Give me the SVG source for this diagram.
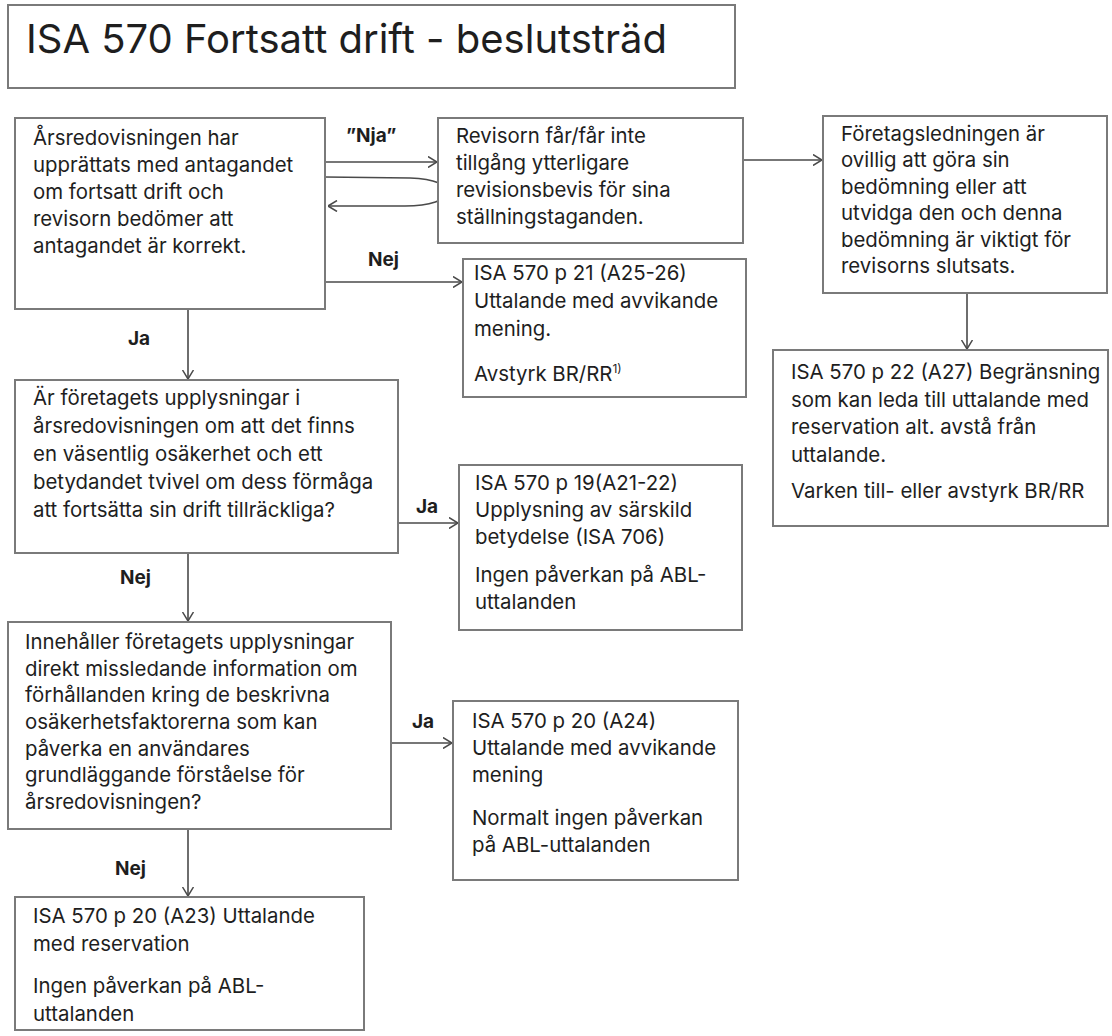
<svg xmlns="http://www.w3.org/2000/svg" width="1112" height="1036" viewBox="0 0 1112 1036">
  <style>
    .bg { fill: #ffffff; }
    .box { fill: #ffffff; stroke: #7a7a7a; stroke-width: 2; }
    .t { font-family: Inter, "Open Sans", "Liberation Sans", sans-serif; font-size: 20.4px; fill: #1e1e1e; }
    .title { font-family: Inter, "Open Sans", "Liberation Sans", sans-serif; font-size: 40px; fill: #1e1e1e; }
    .lbl { font-family: Inter, "Open Sans", "Liberation Sans", sans-serif; font-size: 19px; font-weight: bold; fill: #1e1e1e; }
    .edge { fill: none; stroke: #4a4a4a; stroke-width: 1.6; marker-end: url(#arr); }
    .sup { font-size: 12px; }
  </style>
  <defs>
    <marker id="arr" viewBox="0 0 10 12" refX="9.5" refY="6" markerWidth="10" markerHeight="12" markerUnits="userSpaceOnUse" orient="auto">
      <path d="M0.5,0.5 L9.5,6 L0.5,11.5" fill="none" stroke="#4a4a4a" stroke-width="1.5"/>
    </marker>
  </defs>
  <rect class="bg" x="0" y="0" width="1112" height="1036"/>

  <g id="title">
    <rect class="box" x="8" y="5" width="727" height="83"/>
    <text class="title" x="26" y="53">ISA 570 Fortsatt drift - beslutsträd</text>
  </g>

  <g id="connectors">
    <path class="edge" d="M325,162 L437,162"/>
    <path class="edge" d="M325,177 L410,178 C436,179 447,185 447,192 C447,200 430,206 405,206 L328,206"/>
    <path class="edge" d="M325,282 L462,282"/>
    <path class="edge" d="M743,160 L822,160"/>
    <path class="edge" d="M967,293 L967,349"/>
    <path class="edge" d="M188,309 L188,379"/>
    <path class="edge" d="M398,523 L458,523"/>
    <path class="edge" d="M188,553 L188,621"/>
    <path class="edge" d="M391,743 L452,743"/>
    <path class="edge" d="M188,829 L188,896"/>
    <text class="lbl" x="346" y="142">”Nja”</text>
    <text class="lbl" x="368" y="266">Nej</text>
    <text class="lbl" x="128" y="345">Ja</text>
    <text class="lbl" x="416" y="513">Ja</text>
    <text class="lbl" x="120" y="584">Nej</text>
    <text class="lbl" x="412" y="728">Ja</text>
    <text class="lbl" x="115" y="875">Nej</text>
  </g>

  <g id="n1">
    <rect class="box" x="15" y="118" width="310" height="191"/>
    <text class="t" x="33" y="145">Årsredovisningen har</text>
    <text class="t" x="33" y="172">upprättats med antagandet</text>
    <text class="t" x="33" y="199">om fortsatt drift och</text>
    <text class="t" x="33" y="226">revisorn bedömer att</text>
    <text class="t" x="33" y="253">antagandet är korrekt.</text>
  </g>

  <g id="n2">
    <rect class="box" x="438" y="118" width="305" height="125"/>
    <text class="t" x="456" y="143">Revisorn får/får inte</text>
    <text class="t" x="456" y="170">tillgång ytterligare</text>
    <text class="t" x="456" y="197">revisionsbevis för sina</text>
    <text class="t" x="456" y="224">ställningstaganden.</text>
  </g>

  <g id="n3">
    <rect class="box" x="823" y="116" width="284" height="177"/>
    <text class="t" x="841" y="141">Företagsledningen är</text>
    <text class="t" x="841" y="167">ovillig att göra sin</text>
    <text class="t" x="841" y="194">bedömning eller att</text>
    <text class="t" x="841" y="220">utvidga den och denna</text>
    <text class="t" x="841" y="247">bedömning är viktigt för</text>
    <text class="t" x="841" y="273">revisorns slutsats.</text>
  </g>

  <g id="n4">
    <rect class="box" x="773" y="350" width="335" height="176"/>
    <text class="t" x="791" y="379">ISA 570 p 22 (A27) Begränsning</text>
    <text class="t" x="791" y="407">som kan leda till uttalande med</text>
    <text class="t" x="791" y="434">reservation alt. avstå från</text>
    <text class="t" x="791" y="462">uttalande.</text>
    <text class="t" x="791" y="498">Varken till- eller avstyrk BR/RR</text>
  </g>

  <g id="n5">
    <rect class="box" x="463" y="259" width="283" height="138"/>
    <text class="t" x="474" y="280">ISA 570 p 21 (A25-26)</text>
    <text class="t" x="474" y="308">Uttalande med avvikande</text>
    <text class="t" x="474" y="336">mening.</text>
    <text class="t" x="474" y="381">Avstyrk BR/RR<tspan class="sup" dy="-8">1)</tspan></text>
  </g>

  <g id="n6">
    <rect class="box" x="15" y="380" width="383" height="173"/>
    <text class="t" x="33" y="405">Är företagets upplysningar i</text>
    <text class="t" x="33" y="433">årsredovisningen om att det finns</text>
    <text class="t" x="33" y="461">en väsentlig osäkerhet och ett</text>
    <text class="t" x="33" y="489">betydandet tvivel om dess förmåga</text>
    <text class="t" x="33" y="517">att fortsätta sin drift tillräckliga?</text>
  </g>

  <g id="n7">
    <rect class="box" x="459" y="465" width="283" height="165"/>
    <text class="t" x="475" y="490">ISA 570 p 19(A21-22)</text>
    <text class="t" x="475" y="517">Upplysning av särskild</text>
    <text class="t" x="475" y="544">betydelse (ISA 706)</text>
    <text class="t" x="475" y="582">Ingen påverkan på ABL-</text>
    <text class="t" x="475" y="609">uttalanden</text>
  </g>

  <g id="n8">
    <rect class="box" x="8" y="622" width="383" height="207"/>
    <text class="t" x="25" y="649">Innehåller företagets upplysningar</text>
    <text class="t" x="25" y="676">direkt missledande information om</text>
    <text class="t" x="25" y="702">förhållanden kring de beskrivna</text>
    <text class="t" x="25" y="729">osäkerhetsfaktorerna som kan</text>
    <text class="t" x="25" y="756">påverka en användares</text>
    <text class="t" x="25" y="782">grundläggande förståelse för</text>
    <text class="t" x="25" y="809">årsredovisningen?</text>
  </g>

  <g id="n9">
    <rect class="box" x="453" y="701" width="285" height="179"/>
    <text class="t" x="472" y="728">ISA 570 p 20 (A24)</text>
    <text class="t" x="472" y="755">Uttalande med avvikande</text>
    <text class="t" x="472" y="782">mening</text>
    <text class="t" x="472" y="825">Normalt ingen påverkan</text>
    <text class="t" x="472" y="852">på ABL-uttalanden</text>
  </g>

  <g id="n10">
    <rect class="box" x="15" y="897" width="349" height="133"/>
    <text class="t" x="33" y="923">ISA 570 p 20 (A23) Uttalande</text>
    <text class="t" x="33" y="951">med reservation</text>
    <text class="t" x="33" y="993">Ingen påverkan på ABL-</text>
    <text class="t" x="33" y="1021">uttalanden</text>
  </g>
</svg>
